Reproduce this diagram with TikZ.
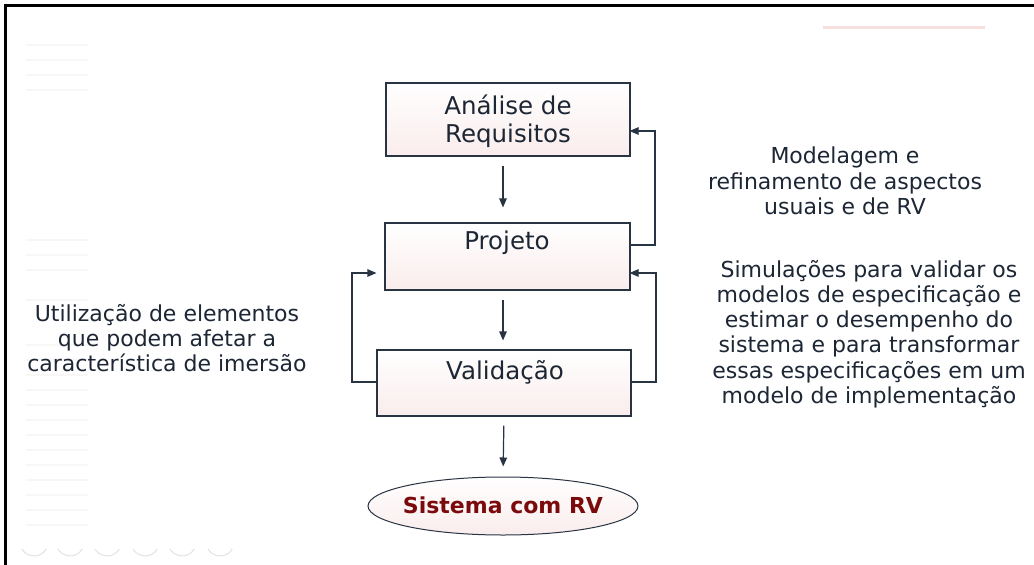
\documentclass[tikz,border=0pt]{standalone}
\usepackage{fontspec}
\setmainfont{DejaVu Sans}
\usetikzlibrary{arrows.meta,shapes.geometric}
\definecolor{txt}{RGB}{28,38,52}
\definecolor{ln}{RGB}{40,52,66}
\definecolor{pinkbot}{RGB}{250,236,236}
\definecolor{pinkbar}{RGB}{248,224,224}
\definecolor{darkred}{RGB}{122,10,12}
\definecolor{faint}{RGB}{249,246,246}
\tikzset{
  box/.style={draw=ln, line width=1.1pt, top color=white, bottom color=pinkbot, inner sep=0pt},
  boxtext/.style={text=txt, font=\fontsize{24.5}{28}\selectfont, align=center, inner sep=0pt},
  side/.style={text=txt, font=\fontsize{22}{25.3}\selectfont, align=center, inner sep=0pt},
  arr/.style={draw=ln, line width=1.2pt, -{Triangle[length=9pt,width=7.5pt]}},
  fb/.style={draw=ln, line width=1.1pt, -{Triangle[length=9pt,width=7.5pt]}},
}
\begin{document}
\begin{tikzpicture}[x=1pt,y=-1pt]
\useasboundingbox (0,0) rectangle (1034,565);
\fill[white] (0,0) rectangle (1034,565);
% faint slide decorations
\foreach \yy in {45,60,75,90,240,255,270,300,345,360,375,390,405,420,435,450,465,480,495,510,525}
  \draw[faint, line width=1.5pt] (26,\yy) -- (88,\yy);
\fill[pinkbar] (823,25.5) rectangle (985,29);
\foreach \cx in {34,70,107,145,182,220}
  \draw[gray!22, line width=1pt] (\cx-12,549) arc[start angle=150, end angle=30, radius=14];
% frame
\draw[black, line width=3pt] (5,565) -- (5,5) -- (1034,5);
% boxes
\node[box, minimum width=244pt, minimum height=73pt] (A) at (508,119.5) {};
\node[boxtext] (At) at (508,121) {Análise de\\Requisitos};
\node[box, minimum width=245pt, minimum height=67pt] (P) at (507.5,256.5) {};
\node[boxtext] (Pt) at (507,243) {Projeto};
\node[box, minimum width=254pt, minimum height=66pt] (V) at (504,383) {};
\node[boxtext] (Vt) at (505,372) {Validação};
\node[ellipse, draw=ln, line width=1pt, top color=white, bottom color=pinkbot, minimum width=270pt, minimum height=58pt, inner sep=0pt] (E) at (503,506) {};
\node[text=darkred, font=\fontsize{22}{26}\selectfont\bfseries, inner sep=0pt] (Et) at (503,505) {Sistema com RV};
% main flow arrows
\draw[arr, shorten <=9pt, shorten >=15pt] ([xshift=-5pt]A.south) -- ([xshift=-4.5pt]P.north);
\draw[arr, shorten <=9pt, shorten >=9pt] ([xshift=-4.5pt]P.south) -- ([xshift=-1pt]V.north);
\draw[arr, shorten <=9pt, shorten >=10pt] (V.south) -- (E.north);
% feedback loops
\coordinate (r1) at (655,0);
\coordinate (r2) at (656,0);
\coordinate (l1) at (352,0);
\draw[fb, shorten >=-1pt] ([yshift=11.5pt]P.east) -| ([yshift=-11.5pt]A.east -| r1) -- ([yshift=-11.5pt]A.east);
\draw[fb, shorten >=-1pt] ([yshift=1pt]V.east) -| ([yshift=-16.5pt]P.east -| r2) -- ([yshift=-16.5pt]P.east);
\draw[fb, shorten >=8pt] ([yshift=1pt]V.west) -| ([yshift=-16.5pt]P.west -| l1) -- ([yshift=-16.5pt]P.west);
% side texts
\node[side] (L) at (167,338) {Utilização de elementos\\que podem afetar a\\característica de imersão};
\node[side] (M) at (845,181) {Modelagem e\\refinamento de aspectos\\usuais e de RV};
\node[side] (S) at (869,334) {Simulações para validar os\\modelos de especificação e\\estimar o desempenho do\\sistema e para transformar\\essas especificações em um\\modelo de implementação};
\end{tikzpicture}
\end{document}
